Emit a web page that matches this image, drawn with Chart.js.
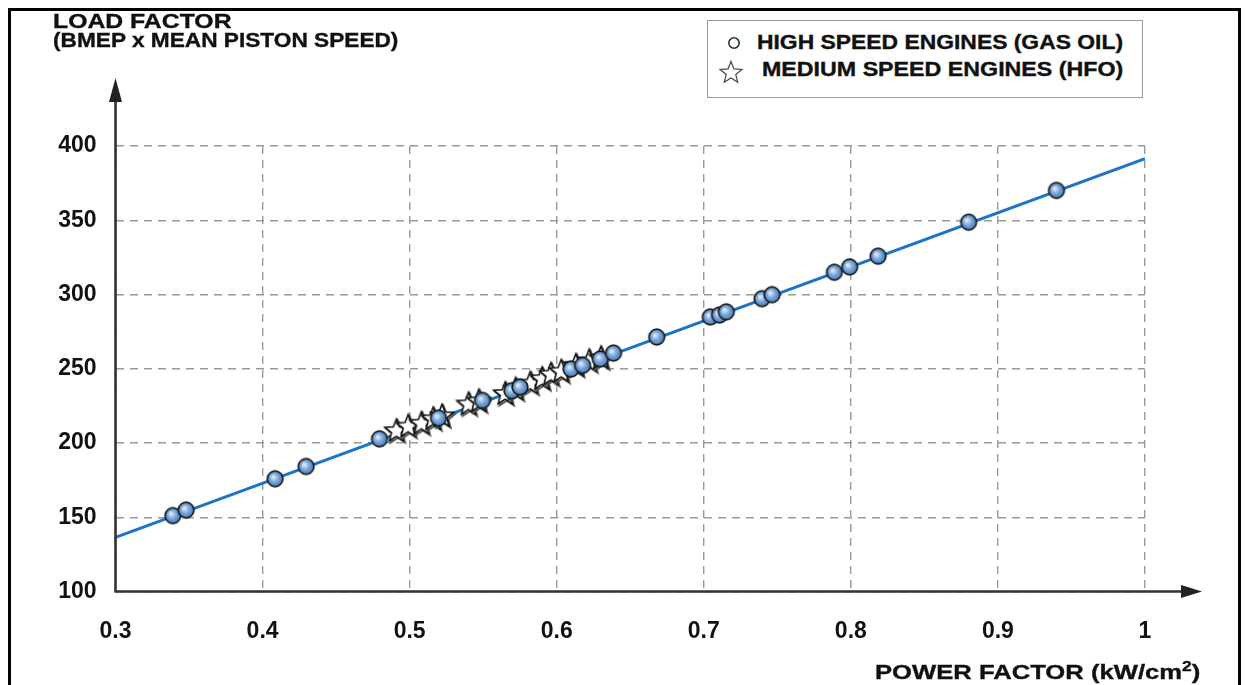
<!DOCTYPE html>
<html>
<head>
<meta charset="utf-8">
<script src="https://cdn.jsdelivr.net/npm/chart.js@4/dist/chart.umd.min.js"></script>
<style>
  html, body { margin: 0; padding: 0; background: #fff; }
  #wrap { position: relative; width: 1245px; height: 685px; overflow: hidden; font-family: "Liberation Sans", Arial, sans-serif; font-weight: bold; color: #111; }
  #frame { position: absolute; left: 8px; top: 8px; width: 1227px; height: 700px; border: 3.5px solid #000; }
  canvas { position: absolute; left: 0; top: 0; }
  .txt { position: absolute; white-space: nowrap; line-height: 1; transform-origin: 0 0; -webkit-text-stroke: 0.35px #111; }
  #legend { position: absolute; left: 707px; top: 20px; width: 434px; height: 76px; border: 1.5px solid #9a9a9a; background: #fff; }
  sup { font-size: 0.68em; vertical-align: 0.55em; line-height: 0; }
</style>
</head>
<body>
<div id="wrap">
  <div id="frame"></div>
  <canvas id="chart" width="1245" height="685"></canvas>
  <div class="txt" data-w="179" style="left:53px; top:11px; font-size:20.5px;">LOAD FACTOR</div>
  <div class="txt" data-w="345" style="left:53px; top:31px; font-size:19.5px;">(BMEP x MEAN PISTON SPEED)</div>
  <div class="txt" data-w="325" style="left:875px; top:662px; font-size:20.5px;">POWER FACTOR (kW/cm<sup>2</sup>)</div>
  <div id="legend">
    <svg style="position:absolute; left:0; top:0;" width="60" height="76">
      <circle cx="26" cy="22" r="5.2" fill="#fff" stroke="#333" stroke-width="1.6"/>
      <polygon id="legStar" fill="#fff" stroke="#444" stroke-width="1.2"/>
    </svg>
  </div>
  <div class="txt" data-w="366" style="left:757px; top:33px; font-size:19.5px;">HIGH SPEED ENGINES (GAS OIL)</div>
  <div class="txt" data-w="361" style="left:762px; top:60px; font-size:19.5px;">MEDIUM SPEED ENGINES (HFO)</div>
</div>
<script>
// high speed engines (gas oil) - blue circles
const highX = [0.339, 0.348, 0.4085, 0.4296, 0.4795, 0.5196, 0.5495, 0.5695, 0.575, 0.6097, 0.6176, 0.6296, 0.6386,
               0.668, 0.7044, 0.7107, 0.7153, 0.7396, 0.7464, 0.7888, 0.7992, 0.8185, 0.8801, 0.9398];
const highY = [151.1, 154.8, 175.9, 184.2, 202.8, 216.8, 228.7, 235.2, 237.7, 249.8, 252.3, 256.6, 260.6,
               271.4, 284.9, 286.2, 288.3, 297.2, 299.9, 315.0, 318.6, 325.8, 348.7, 370.1];

// medium speed engines (HFO) - stars
const medX = [0.491, 0.499, 0.508, 0.516, 0.522, 0.540, 0.547, 0.565, 0.572, 0.582, 0.590, 0.596, 0.603, 0.613, 0.622, 0.630];
const medY = [208, 211, 213, 216, 218, 226, 228, 233, 236, 240, 243, 246, 248, 252, 255, 257];

// fitted line
const lineX = [0.3, 1.0];
const lineY = [136.5, 391.5];

const xTicks = [0.3, 0.4, 0.5, 0.6, 0.7, 0.8, 0.9, 1.0];
const xTickLabels = ["0.3", "0.4", "0.5", "0.6", "0.7", "0.8", "0.9", "1"];
const yTicks = [100, 150, 200, 250, 300, 350, 400];

function starPath(ctx, cx, cy, R, r) {
  ctx.beginPath();
  for (let i = 0; i < 10; i++) {
    const a = -Math.PI / 2 + i * Math.PI / 5;
    const rad = i % 2 === 0 ? R : r;
    const px = cx + rad * Math.cos(a), py = cy + rad * Math.sin(a);
    if (i === 0) ctx.moveTo(px, py); else ctx.lineTo(px, py);
  }
  ctx.closePath();
}

// legend star
(function () {
  const pts = [];
  for (let i = 0; i < 10; i++) {
    const a = -Math.PI / 2 + i * Math.PI / 5;
    const rad = i % 2 === 0 ? 11.5 : 5;
    pts.push((23 + rad * Math.cos(a)).toFixed(2) + "," + (52 + rad * Math.sin(a)).toFixed(2));
  }
  document.getElementById("legStar").setAttribute("points", pts.join(" "));
})();

// point images
const circleImg = document.createElement("canvas");
circleImg.width = 22; circleImg.height = 22;
(function () {
  const c = circleImg.getContext("2d");
  const g = c.createRadialGradient(9, 9, 0.5, 11, 11, 8.5);
  g.addColorStop(0, "#e2eefb");
  g.addColorStop(0.45, "#7eaadc");
  g.addColorStop(1, "#3a74b6");
  c.beginPath();
  c.arc(11, 11, 7.8, 0, Math.PI * 2);
  c.fillStyle = g;
  c.fill();
  c.lineWidth = 1.7;
  c.strokeStyle = "#1c1c1c";
  c.stroke();
})();

const starImg = document.createElement("canvas");
starImg.width = 32; starImg.height = 32;
(function () {
  const c = starImg.getContext("2d");
  starPath(c, 17.5, 17.5, 12, 5.2);
  c.lineWidth = 2;
  c.strokeStyle = "#555";
  c.stroke();
  starPath(c, 16, 16, 12, 5.2);
  c.fillStyle = "#fff";
  c.fill();
  c.lineWidth = 1.6;
  c.strokeStyle = "#111";
  c.stroke();
})();

const arrowAxes = {
  id: "arrowAxes",
  afterDatasetsDraw(chart) {
    const { ctx, scales: { x, y } } = chart;
    const x0 = x.getPixelForValue(0.3), y0 = y.getPixelForValue(100);
    ctx.save();
    ctx.strokeStyle = "#333";
    ctx.fillStyle = "#222";
    ctx.lineWidth = 2.6;
    ctx.beginPath();
    ctx.moveTo(x0, y0 + 1);
    ctx.lineTo(x0, 96);
    ctx.moveTo(x0 - 1, y0);
    ctx.lineTo(1186, y0);
    ctx.stroke();
    ctx.beginPath();
    ctx.moveTo(x0, 78); ctx.lineTo(x0 - 6.5, 102); ctx.lineTo(x0 + 6.5, 102); ctx.closePath();
    ctx.fill();
    ctx.beginPath();
    ctx.moveTo(1202, y0); ctx.lineTo(1181, y0 - 6.5); ctx.lineTo(1181, y0 + 6.5); ctx.closePath();
    ctx.fill();
    ctx.restore();
  }
};

const tickFont = { family: "'Liberation Sans', Arial, sans-serif", size: 23, weight: "bold" };
const gridOpts = { color: "#9a9a9a", lineWidth: 1.4, drawTicks: false };

new Chart(document.getElementById("chart"), {
  type: "scatter",
  data: {
    datasets: [
      {
        label: "HIGH SPEED ENGINES (GAS OIL)",
        data: highX.map((v, i) => ({ x: v, y: highY[i] })),
        pointStyle: circleImg,
        order: 0
      },
      {
        label: "MEDIUM SPEED ENGINES (HFO)",
        data: medX.map((v, i) => ({ x: v, y: medY[i] })),
        pointStyle: starImg,
        order: 1
      },
      {
        type: "line",
        label: "fit",
        data: lineX.map((v, i) => ({ x: v, y: lineY[i] })),
        borderColor: "#1b74c8",
        borderWidth: 3,
        pointRadius: 0,
        fill: false,
        order: 2
      }
    ]
  },
  options: {
    responsive: false,
    animation: false,
    layout: { padding: { left: 0, top: 146, right: 100, bottom: 0 } },
    plugins: { legend: { display: false }, tooltip: { enabled: false } },
    scales: {
      x: {
        type: "linear",
        min: 0.3,
        max: 1.0,
        afterBuildTicks: s => { s.ticks = xTicks.map(v => ({ value: v })); },
        afterFit: s => { s.height = 93.5; },
        grid: gridOpts,
        border: { display: false, dash: [8, 6] },
        ticks: {
          color: "#111",
          font: tickFont,
          padding: 26,
          maxRotation: 0,
          callback: (v, i) => xTickLabels[i]
        }
      },
      y: {
        min: 100,
        max: 400,
        afterBuildTicks: s => { s.ticks = yTicks.map(v => ({ value: v })); },
        afterFit: s => { s.width = 115.5; },
        grid: gridOpts,
        border: { display: false, dash: [8, 6] },
        ticks: { color: "#111", font: tickFont, padding: 19 }
      }
    }
  },
  plugins: [arrowAxes]
});

// stretch the bold captions to the widths they have in the figure
document.querySelectorAll(".txt").forEach(el => {
  const w = +el.dataset.w;
  el.style.transform = "scaleX(" + (w / el.offsetWidth).toFixed(3) + ")";
});
</script>
</body>
</html>
